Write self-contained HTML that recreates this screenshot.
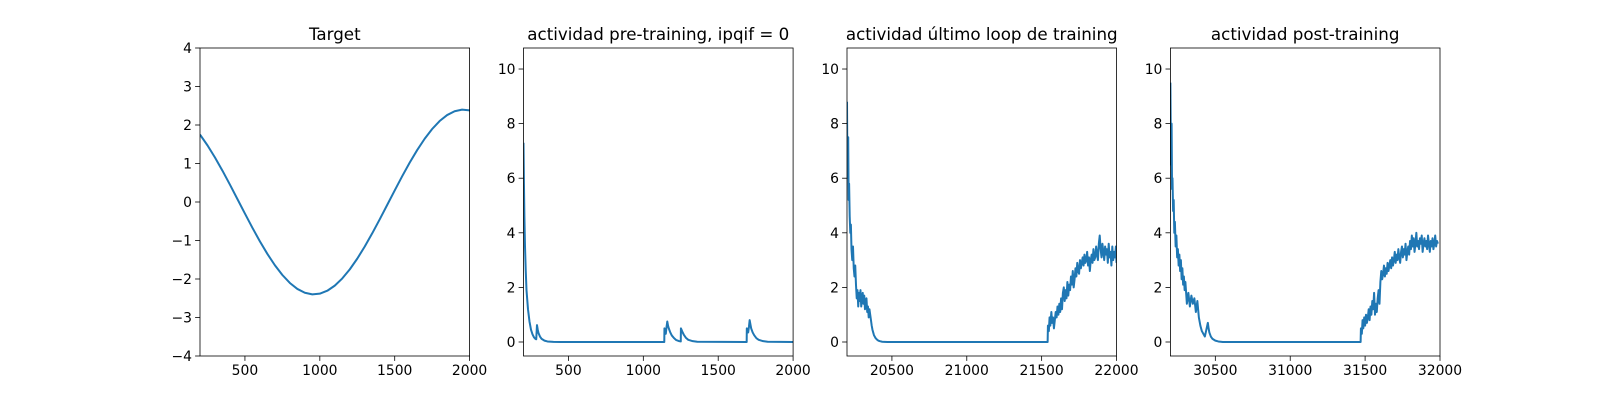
<!DOCTYPE html>
<html><head><meta charset="utf-8">
<style>
html,body{margin:0;padding:0;background:#fff;}
svg{display:block;font-family:"DejaVu Sans","Liberation Sans",sans-serif;}
</style></head>
<body>
<svg id="fig" width="1600" height="400" viewBox="0 0 1600 400" xmlns="http://www.w3.org/2000/svg"></svg>
<script>
// ---------- data ----------
const targetX = [200,250,300,350,400,450,500,550,600,650,700,750,800,850,900,950,1000,1050,1100,1150,1200,1250,1300,1350,1400,1450,1500,1550,1600,1650,1700,1750,1800,1850,1900,1950,2000];
const targetY = [1.750,1.471,1.156,0.813,0.450,0.075,-0.301,-0.670,-1.022,-1.349,-1.643,-1.896,-2.103,-2.258,-2.358,-2.399,-2.381,-2.305,-2.172,-1.985,-1.750,-1.471,-1.156,-0.813,-0.450,-0.075,0.301,0.670,1.022,1.349,1.643,1.896,2.103,2.258,2.358,2.399,2.381];

const preX = [200,203,206,210,215,220,230,240,250,260,270,280,285,290,295,300,310,320,340,360,400,450,1140,1141,1145,1150,1155,1160,1165,1170,1180,1190,1205,1220,1240,1250,1251,1255,1260,1270,1285,1300,1330,1360,1690,1691,1695,1700,1705,1710,1715,1720,1730,1740,1755,1770,1800,1830,2000];
const preY = [7.3,5.8,4.6,3.5,2.6,1.9,1.2,0.75,0.45,0.28,0.17,0.11,0.1,0.62,0.45,0.33,0.2,0.12,0.05,0.02,0.005,0,0,0.5,0.45,0.3,0.55,0.75,0.6,0.5,0.35,0.24,0.14,0.07,0.03,0.02,0.5,0.45,0.38,0.27,0.15,0.08,0.03,0.01,0,0.5,0.45,0.35,0.55,0.8,0.65,0.5,0.35,0.25,0.14,0.08,0.03,0.01,0];

const midX = [20200,20202,20205,20208,20211,20214,20218,20222,20226,20230,20235,20240,20245,20250,20255,20260,20265,20270,20275,20280,20285,20290,20295,20300,20305,20310,20315,20320,20325,20330,20335,20340,20345,20350,20355,20360,20365,20370,20375,20380,20390,20400,20410,20420,20435,20450,20470,20500,21540,21542,21548,21553,21558,21565,21570,21576,21582,21588,21594,21600,21606,21612,21618,21624,21630,21636,21642,21648,21654,21660,21666,21672,21678,21684,21690,21696,21702,21708,21714,21720,21726,21732,21738,21744,21750,21756,21762,21768,21774,21780,21786,21792,21798,21804,21810,21816,21822,21828,21834,21840,21846,21852,21858,21864,21870,21876,21882,21888,21894,21900,21906,21912,21918,21924,21930,21936,21942,21948,21954,21960,21966,21972,21978,21984,21990,21996,22000];
const midY = [8.8,7.0,6.0,7.5,5.2,5.8,4.6,4.0,4.3,3.4,3.0,3.5,2.7,2.4,2.8,2.1,1.6,1.9,1.3,1.8,1.5,1.9,1.3,1.6,1.8,1.4,1.7,1.2,1.5,1.6,1.1,1.3,0.9,1.2,1.0,0.8,0.6,0.45,0.35,0.25,0.15,0.09,0.05,0.03,0.01,0.005,0,0,0,0.6,0.4,0.9,0.6,1.1,0.7,0.9,0.5,0.8,1.1,0.9,1.3,1.0,1.4,1.1,1.6,1.2,1.8,2.0,1.5,1.9,1.6,2.2,1.7,2.1,1.9,2.4,2.1,2.6,2.0,2.3,2.7,2.4,2.9,2.6,2.5,3.0,2.7,2.9,3.1,2.8,3.2,2.9,3.0,3.3,2.8,3.1,2.6,3.0,3.2,2.9,3.4,3.0,3.1,3.5,3.2,3.0,3.6,3.9,3.4,3.1,3.6,3.3,3.0,3.5,3.2,3.4,2.9,3.6,3.1,3.3,2.8,3.5,3.0,3.3,3.1,3.5,2.9];

const postX = [30200,30202,30205,30208,30211,30214,30218,30222,30226,30230,30235,30240,30245,30250,30255,30260,30265,30270,30275,30280,30285,30290,30295,30300,30310,30320,30330,30340,30350,30360,30370,30380,30390,30400,30410,30420,30430,30440,30450,30455,30460,30470,30480,30500,30520,30550,31470,31472,31478,31483,31488,31494,31500,31506,31512,31518,31524,31530,31536,31542,31548,31554,31560,31566,31572,31578,31584,31590,31596,31602,31608,31614,31620,31626,31632,31638,31644,31650,31656,31662,31668,31674,31680,31686,31692,31698,31704,31710,31716,31722,31728,31734,31740,31746,31752,31758,31764,31770,31776,31782,31788,31794,31800,31806,31812,31818,31824,31830,31836,31842,31848,31854,31860,31866,31872,31878,31884,31890,31896,31902,31908,31914,31920,31926,31932,31938,31944,31950,31956,31962,31968,31974,31980,31986,31992,32000];
const postY = [9.5,8.0,6.5,8.0,5.6,6.0,4.8,5.2,4.0,4.4,3.5,3.9,3.1,3.4,2.8,3.2,2.6,3.0,2.3,2.7,2.1,2.4,1.9,2.2,1.4,1.8,1.3,1.7,1.4,1.6,1.1,1.5,0.9,0.6,0.4,0.3,0.2,0.45,0.7,0.5,0.35,0.2,0.12,0.05,0.02,0,0,0.5,0.3,0.8,0.5,0.9,0.6,1.0,0.7,0.9,1.2,0.8,1.3,1.0,1.5,1.2,1.8,1.0,1.4,1.1,1.6,1.9,1.4,2.2,2.6,2.3,2.5,2.8,2.4,2.7,2.5,2.9,2.6,2.8,3.0,2.7,3.1,2.8,3.0,3.3,2.9,3.2,3.0,3.4,3.1,2.9,3.3,3.5,3.1,3.4,3.2,3.6,3.0,3.3,3.5,3.2,3.7,3.4,3.9,3.5,3.8,3.3,3.6,4.0,3.5,3.7,3.4,3.8,3.6,3.9,3.3,3.6,3.8,3.5,3.7,3.4,3.9,3.6,3.3,3.7,3.5,3.8,3.4,3.6,3.9,3.5,3.7,3.6];

const yTicksTarget = [-4,-3,-2,-1,0,1,2,3,4];
const yTicksAct = [0,2,4,6,8,10];
const xTicks1 = [500,1000,1500,2000];
const xTicks3 = [20500,21000,21500,22000];
const xTicks4 = [30500,31000,31500,32000];

// ---------- drawing ----------
const NS = "http://www.w3.org/2000/svg";
const svg = document.getElementById('fig');
function mk(tag, attrs, parent){
  const e = document.createElementNS(NS, tag);
  for (const k in attrs) e.setAttribute(k, attrs[k]);
  (parent||svg).appendChild(e);
  return e;
}
const AY0 = 48, AY1 = 356;
function fmt(v){ return v < 0 ? '\u2212' + Math.abs(v) : String(v); }

function panel(name, left, right, xmin, xmax, ymin, ymax, xs, ys, xt, yt, title){
  const g = mk('g', {});
  
  
  const sx = v => left + (v - xmin) / (xmax - xmin) * (right - left);
  const sy = v => AY1 - (v - ymin) / (ymax - ymin) * (AY1 - AY0);
  const clipId = 'clip-' + name;
  const cp = mk('clipPath', {id: clipId}, g);
  mk('rect', {x: left, y: AY0, width: right - left, height: AY1 - AY0}, cp);
  let d = '';
  for (let i = 0; i < xs.length; i++) d += (i ? 'L' : 'M') + sx(xs[i]).toFixed(2) + ' ' + sy(ys[i]).toFixed(2);
  const line = mk('path', {d: d, fill: 'none', stroke: '#1f77b4', 'stroke-width': 2, 'stroke-linejoin': 'round', 'clip-path': 'url(#' + clipId + ')'}, g);
  
  
  const frame = mk('rect', {x: left, y: AY0, width: right - left, height: AY1 - AY0, fill: 'none', stroke: '#000', 'stroke-width': 0.8}, g);
  
  
  xt.forEach(v => {
    const x = sx(v);
    mk('line', {x1: x, x2: x, y1: AY1, y2: AY1 + 4.9, stroke: '#000', 'stroke-width': 0.8}, g);
    const t = mk('text', {x: x, y: AY1 + 19, 'font-size': 13.9, 'text-anchor': 'middle', fill: '#000'}, g);
    
    
    t.textContent = fmt(v);
  });
  yt.forEach(v => {
    const y = sy(v);
    mk('line', {x1: left - 4.9, x2: left, y1: y, y2: y, stroke: '#000', 'stroke-width': 0.8}, g);
    const t = mk('text', {x: left - 8, y: y + 5, 'font-size': 13.9, 'text-anchor': 'end', fill: '#000'}, g);
    
    
    t.textContent = fmt(v);
  });
  const tt = mk('text', {x: (left + right) / 2, y: AY0 - 8, 'font-size': 16.7, 'text-anchor': 'middle', fill: '#000'}, g);
  
  
  tt.textContent = title;
}
const YMIN = -0.513, YMAX = 10.77;
panel('target-panel', 200, 469.6, 200, 2000, -4, 4, targetX, targetY, xTicks1, yTicksTarget, 'Target');
panel('pre-training-panel', 523.5, 793.1, 200, 2000, YMIN, YMAX, preX, preY, xTicks1, yTicksAct, 'actividad pre-training, ipqif = 0');
panel('last-training-loop-panel', 847, 1116.5, 20200, 22000, YMIN, YMAX, midX, midY, xTicks3, yTicksAct, 'actividad último loop de training');
panel('post-training-panel', 1170.4, 1440, 30200, 32000, YMIN, YMAX, postX, postY, xTicks4, yTicksAct, 'actividad post-training');
</script>
</body></html>
